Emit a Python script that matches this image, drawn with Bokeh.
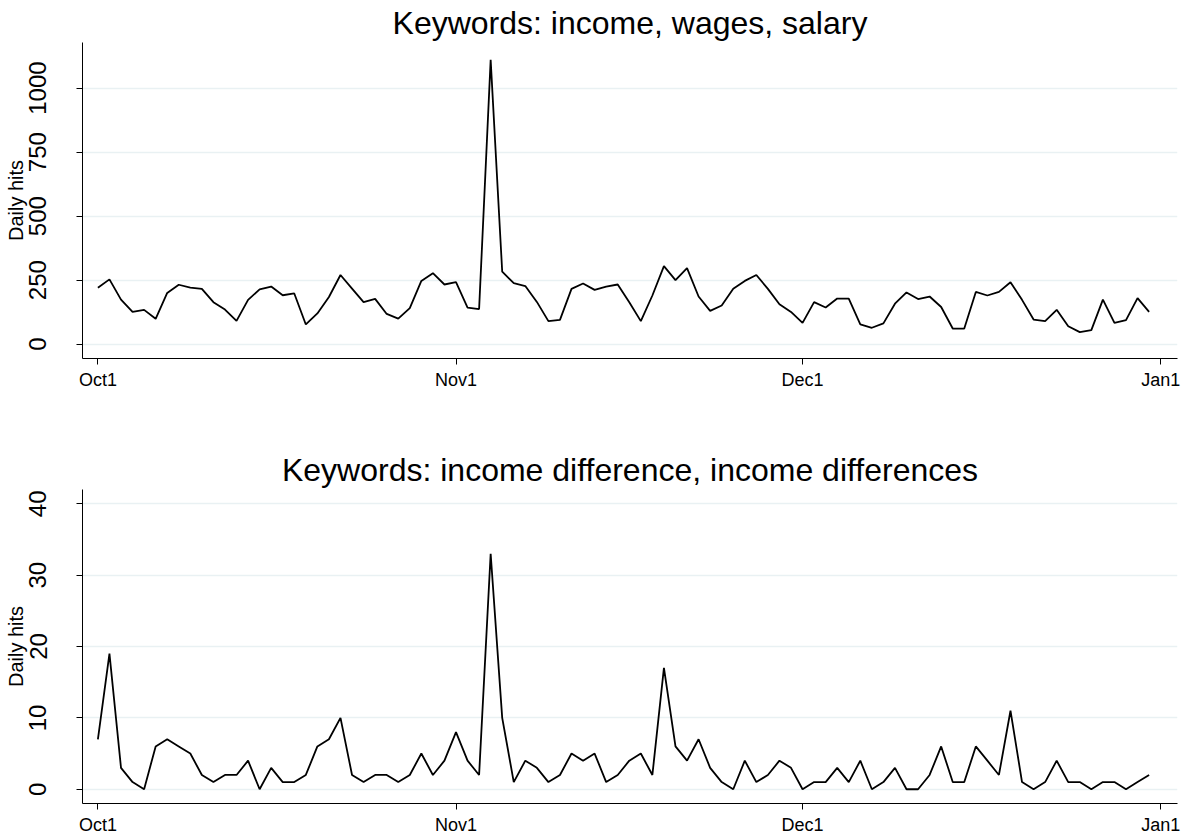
"""
Daily hits for two keyword groups, Oct-Dec, drawn with Bokeh.
"""

import pandas as pd

from bokeh.embed import file_html
from bokeh.layouts import column
from bokeh.models import ColumnDataSource, FixedTicker, Range1d
from bokeh.plotting import figure
from bokeh.resources import INLINE


DATES = pd.date_range("2011-10-01", "2011-12-31", freq="D")

INCOME_HITS = [
    # Oct
    220, 253, 174, 126, 134, 99, 200, 232, 221, 216, 164, 135, 91, 173, 214, 225,
    191, 198, 77, 120, 184, 270, 217, 164, 177, 118, 100, 141, 247, 277, 233,
    # Nov
    242, 143, 137, 1110, 283, 238, 227, 165, 90, 95, 216, 237, 212, 225, 233,
    164, 90, 190, 305, 250, 297, 186, 130, 151, 216, 247, 270, 216, 156, 126,
    # Dec
    83, 164, 143, 178, 178, 77, 64, 81, 158, 202, 176, 186, 145, 61, 61, 204,
    190, 204, 242, 173, 96, 90, 134, 70, 47, 55, 174, 83, 94, 180, 126,
]

DIFFERENCE_HITS = [
    # Oct
    7, 19, 3, 1, 0, 6, 7, 6, 5, 2, 1, 2, 2, 4, 0, 3,
    1, 1, 2, 6, 7, 10, 2, 1, 2, 2, 1, 2, 5, 2, 4,
    # Nov
    8, 4, 2, 33, 10, 1, 4, 3, 1, 2, 5, 4, 5, 1, 2,
    4, 5, 2, 17, 6, 4, 7, 3, 1, 0, 4, 1, 2, 4, 3,
    # Dec
    0, 1, 1, 3, 1, 4, 0, 1, 3, 0, 0, 2, 6, 1, 1, 6,
    4, 2, 11, 1, 0, 1, 4, 1, 1, 0, 1, 1, 0, 1, 2,
]

X_TICK_DATES = ["2011-10-01", "2011-11-01", "2011-12-01", "2012-01-01"]
X_TICK_LABELS = ["Oct1", "Nov1", "Dec1", "Jan1"]

INCOME_Y_TICKS = [0, 250, 500, 750, 1000]
DIFFERENCE_Y_TICKS = [0, 10, 20, 30, 40]

FONT = "Liberation Sans"
GRID_COLOR = "#e9f1f3"


def build_panel(title, values, y_ticks, y_start, y_end, frame_height, border_top, border_bottom):
    """Un panneau style Stata : titre centre, grille claire, etiquettes y verticales."""
    source = ColumnDataSource(data=dict(date=DATES, hits=values))
    tick_ms = [pd.Timestamp(d).value // 10**6 for d in X_TICK_DATES]

    p = figure(
        x_axis_type="datetime",
        frame_width=1095,
        frame_height=frame_height,
        min_border_left=82,
        min_border_right=4,
        min_border_top=border_top,
        min_border_bottom=border_bottom,
        x_range=Range1d(
            start=DATES[0] - pd.Timedelta(hours=32),
            end=pd.Timestamp(X_TICK_DATES[-1]) + pd.Timedelta(hours=35),
        ),
        y_range=Range1d(y_start, y_end),
        toolbar_location=None,
        output_backend="svg",
        title=title,
    )
    p.line("date", "hits", source=source, line_color="black", line_width=1.8)

    p.outline_line_color = None
    p.background_fill_color = "white"
    p.border_fill_color = "white"

    p.title.align = "center"
    p.title.text_font = FONT
    p.title.text_font_size = "32px"
    p.title.text_font_style = "normal"
    p.title.text_color = "black"
    p.title.standoff = 4

    p.xgrid.grid_line_color = None
    p.ygrid.grid_line_color = GRID_COLOR
    p.ygrid.grid_line_width = 1.5

    xaxis = p.xaxis[0]
    xaxis.ticker = FixedTicker(ticks=tick_ms)
    xaxis.major_label_overrides = dict(zip(tick_ms, X_TICK_LABELS))
    xaxis.minor_tick_line_color = None
    xaxis.major_tick_in = 0
    xaxis.major_tick_out = 6
    xaxis.major_label_standoff = 5
    xaxis.major_label_text_font = FONT
    xaxis.major_label_text_font_size = "18px"
    xaxis.major_label_text_color = "black"
    xaxis.axis_line_color = "black"
    xaxis.major_tick_line_color = "black"

    yaxis = p.yaxis[0]
    yaxis.ticker = FixedTicker(ticks=y_ticks)
    yaxis.minor_tick_line_color = None
    yaxis.major_tick_in = 0
    yaxis.major_tick_out = 6
    yaxis.major_label_orientation = "vertical"
    yaxis.major_label_standoff = 30
    yaxis.major_label_text_font = FONT
    yaxis.major_label_text_font_size = "24px"
    yaxis.major_label_text_color = "black"
    yaxis.axis_label = "Daily hits"
    yaxis.axis_label_text_font = FONT
    yaxis.axis_label_text_font_size = "20px"
    yaxis.axis_label_text_font_style = "normal"
    yaxis.axis_label_text_color = "black"
    yaxis.axis_label_standoff = 0
    yaxis.axis_line_color = "black"
    yaxis.major_tick_line_color = "black"
    return p


def main():
    top = build_panel(
        "Keywords: income, wages, salary",
        INCOME_HITS, INCOME_Y_TICKS, -56, 1178, 316, 41, 60,
    )
    bottom = build_panel(
        "Keywords: income difference, income differences",
        DIFFERENCE_HITS, DIFFERENCE_Y_TICKS, -2.0, 42.0, 314, 71, 31,
    )
    layout = column(top, bottom, spacing=0)
    open("out.html", "w").write(file_html(layout, INLINE))


if __name__ == "__main__":
    main()
